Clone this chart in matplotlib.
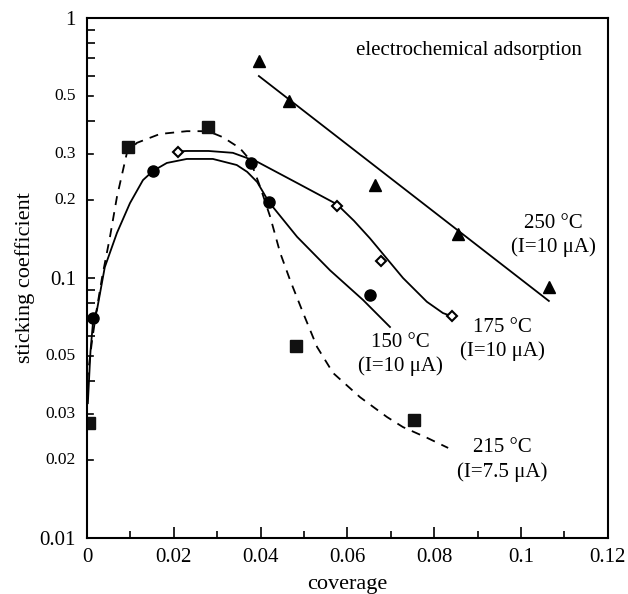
import matplotlib
matplotlib.use('Agg')
import matplotlib.pyplot as plt
from matplotlib.ticker import FixedLocator, NullFormatter

plt.rcParams['font.family'] = ['Liberation Serif', 'DejaVu Serif']

# measured points
x150 = [0.0014, 0.0152, 0.0378, 0.0419, 0.0652]
y150 = [0.070, 0.258, 0.277, 0.196, 0.086]
x175 = [0.021, 0.0576, 0.0677, 0.0841]
y175 = [0.305, 0.189, 0.116, 0.0714]
x215 = [0.0005, 0.0094, 0.0279, 0.0481, 0.0753]
y215 = [0.0277, 0.319, 0.381, 0.0547, 0.0284]
x250 = [0.0396, 0.0465, 0.0663, 0.0855, 0.1064]
y250 = [0.684, 0.48, 0.228, 0.148, 0.092]

# guide curves
c150_x = [0.0002, 0.0008, 0.0014, 0.0023, 0.0041, 0.0069, 0.0099, 0.0129, 0.0152, 0.0184,
          0.023, 0.029, 0.0345, 0.0369, 0.0392, 0.0419, 0.0484, 0.056, 0.0636, 0.0698]
c150_y = [0.033, 0.052, 0.068, 0.0753, 0.110, 0.149, 0.194, 0.238, 0.258, 0.277,
          0.287, 0.287, 0.272, 0.256, 0.234, 0.196, 0.144, 0.107, 0.0823, 0.0648]
c175_x = [0.021, 0.023, 0.028, 0.0336, 0.0392, 0.0484, 0.0576, 0.0615, 0.0652, 0.0728,
          0.0783, 0.082, 0.0839]
c175_y = [0.307, 0.308, 0.308, 0.303, 0.280, 0.232, 0.192, 0.166, 0.142, 0.100,
          0.081, 0.0733, 0.0714]
c215_x = [0.0, 0.0012, 0.0022, 0.0035, 0.0053, 0.0069, 0.0092, 0.0115, 0.0168, 0.023, 0.0279,
          0.0313, 0.0352, 0.0376, 0.0399, 0.0422, 0.0445, 0.0468, 0.0498, 0.053, 0.0567,
          0.0629, 0.0691, 0.0728, 0.0783, 0.0832]
c215_y = [0.04, 0.058, 0.075, 0.101, 0.144, 0.205, 0.303, 0.331, 0.358, 0.367, 0.367,
          0.348, 0.316, 0.284, 0.224, 0.172, 0.125, 0.098, 0.0733, 0.0543, 0.0431,
          0.0348, 0.0292, 0.0267, 0.0243, 0.0222]
fit250_x = [0.0396, 0.1064]
fit250_y = [0.598, 0.0816]

ymajor = [0.01, 0.1, 1]
ylabels = ['0.01', '0.1', '1']
ysmall = [0.02, 0.03, 0.05, 0.2, 0.3, 0.5]
ysmall_labels = ['0.02', '0.03', '0.05', '0.2', '0.3', '0.5']
yother = [0.04, 0.06, 0.07, 0.08, 0.09, 0.4, 0.6, 0.7, 0.8, 0.9]

fig = plt.figure(figsize=(6.28, 5.94), dpi=100)
ax = fig.add_axes([0.1385, 0.0943, 0.8295, 0.8754])

lw = 1.3
ax.plot(c150_x, c150_y, color='black', lw=lw)
ax.plot(c175_x, c175_y, color='black', lw=lw)
ax.plot(c215_x, c215_y, color='black', lw=lw, ls=(0, (5, 4)))
ax.plot(fit250_x, fit250_y, color='black', lw=lw)

ax.plot(x150, y150, 'o', color='black', ms=8, ls='none')
ax.plot(x175, y175, 'D', mfc='white', mec='black', mew=1.5, ms=5, ls='none')
ax.plot(x215, y215, 's', color='#111111', ms=8, ls='none')
ax.plot(x250, y250, '^', color='black', ms=8, ls='none')

ax.set_yscale('log')
ax.set_xlim(0, 0.12)
ax.set_ylim(0.01, 1)
ax.set_xticks([0, 0.02, 0.04, 0.06, 0.08, 0.1, 0.12])
ax.set_xticklabels(['0', '0.02', '0.04', '0.06', '0.08', '0.1', '0.12'])
ax.set_xticks([0.01, 0.03, 0.05, 0.07, 0.09, 0.11], minor=True)
ax.yaxis.set_major_locator(FixedLocator(ymajor))
ax.set_yticklabels(ylabels)
ax.yaxis.set_minor_locator(FixedLocator(yother))
ax.yaxis.set_minor_formatter(NullFormatter())

ax.tick_params(axis='both', which='both', direction='in', labelsize=15, width=1.2,
               top=False, right=False)
ax.tick_params(axis='y', which='both', length=6, pad=8)
ax.tick_params(axis='x', which='major', length=8, pad=7)
ax.tick_params(axis='x', which='minor', length=5)
for s in ax.spines.values():
    s.set_linewidth(1.5)

# smaller labelled ticks on the y axis
ytrans = ax.get_yaxis_transform()
for v, lab in zip(ysmall, ysmall_labels):
    ax.plot([0, 0.012], [v, v], color='black', lw=1.2, transform=ytrans, clip_on=False)
    ax.annotate(lab, xy=(0, v), xycoords=ytrans, xytext=(-8, 0), textcoords='offset points',
                ha='right', va='center', fontsize=12.5)

ax.set_xlabel('coverage', fontsize=16, labelpad=6)
ax.set_ylabel('sticking coefficient', fontsize=16, labelpad=3)

fs = 15
ls = 1.3
ax.text(0.088, 0.753, 'electrochemical adsorption', fontsize=fs, ha='center', va='center')
ax.text(0.1075, 0.146, '250 °C\n(I=10 μA)', fontsize=fs, ha='center', va='center', linespacing=ls)
ax.text(0.0956, 0.0578, '175 °C\n(I=10 μA)', fontsize=fs, ha='center', va='center', linespacing=ls)
ax.text(0.0721, 0.0506, '150 °C\n(I=10 μA)', fontsize=fs, ha='center', va='center', linespacing=ls)
ax.text(0.0956, 0.01995, '215 °C\n(I=7.5 μA)', fontsize=fs, ha='center', va='center', linespacing=ls)

fig.savefig('out.png', dpi=100)
